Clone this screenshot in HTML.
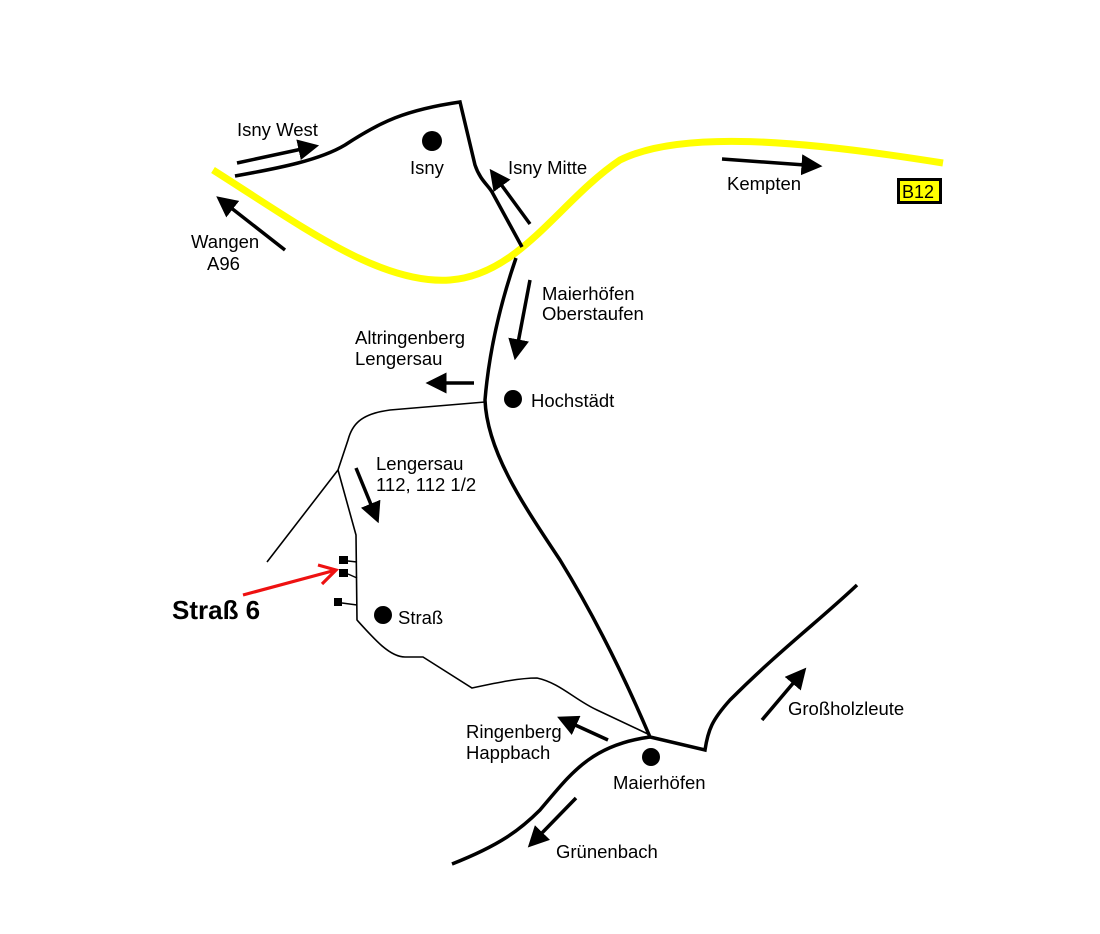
<!DOCTYPE html>
<html><head><meta charset="utf-8"><style>
html,body{margin:0;padding:0;background:#fff}
svg{display:block}
text{font-family:"Liberation Sans",Arial,sans-serif;font-size:18.5px;fill:#000}
</style></head><body>
<svg width="1100" height="934" viewBox="0 0 1100 934" xmlns="http://www.w3.org/2000/svg">
<defs>
<marker id="ah" markerWidth="6" markerHeight="6" refX="1" refY="3" orient="auto" markerUnits="strokeWidth">
<path d="M0,0 L6,3 L0,6 z" fill="#000"/>
</marker>
</defs>
<path d="M213,170 C300,225 380,285 450,280 C520,275 560,200 620,160 C680,130 800,140 943,163" fill="none" stroke="#ffff00" stroke-width="7"/>
<path d="M235,176 C280,168 320,160 345,145 C380,122 405,110 460,102 L475,165 C480,180 488,185 492,192 L522,247" fill="none" stroke="#000" stroke-width="3.5"/>
<path d="M516,258 C505,290 490,340 485,400 C487,450 520,500 560,560 C600,625 630,690 650,737 L705,750 C708,730 712,720 730,700 C780,650 820,620 857,585" fill="none" stroke="#000" stroke-width="3.5"/>
<path d="M452,864 C500,845 520,830 540,810 C570,775 590,745 650,737" fill="none" stroke="#000" stroke-width="3.5"/>
<path d="M485,402 L390,410 C360,414 352,425 348,440 L338,470 L267,562" fill="none" stroke="#000" stroke-width="1.6"/>
<path d="M338,470 L356,535 L357,620 C375,640 390,657 405,657 L423,657 L472,688 C500,682 520,678 537,678 C560,683 575,700 597,710 L650,735" fill="none" stroke="#000" stroke-width="1.6"/>
<g fill="#000">
<rect x="339" y="556" width="9" height="8"/>
<rect x="339" y="569" width="9" height="8"/>
<rect x="334" y="598" width="8" height="8"/>
</g>
<path d="M348,561 L357,562 M348,574 L357,578 M342,603 L357,605" stroke="#000" stroke-width="1.4" fill="none"/>
<path d="M243,595 L336,570 M318,565 L336,570 L322,584" stroke="#ee1111" stroke-width="3.2" fill="none"/>
<circle cx="432" cy="141" r="10"/>
<circle cx="513" cy="399" r="9"/>
<circle cx="383" cy="615" r="9"/>
<circle cx="651" cy="757" r="9"/>
<g stroke="#000" stroke-width="3.5" fill="none" marker-end="url(#ah)">
<line x1="237" y1="163" x2="302" y2="149"/>
<line x1="285" y1="250" x2="230" y2="207"/>
<line x1="530" y1="224" x2="500" y2="183"/>
<line x1="722" y1="159" x2="805" y2="165"/>
<line x1="530" y1="280" x2="518" y2="343"/>
<line x1="474" y1="383" x2="443" y2="383"/>
<line x1="356" y1="468" x2="372" y2="507"/>
<line x1="608" y1="740" x2="573" y2="724"/>
<line x1="576" y1="798" x2="540" y2="835"/>
<line x1="762" y1="720" x2="795" y2="681"/>
</g>
<rect x="897" y="178" width="45" height="26" fill="#000"/>
<rect x="900" y="181" width="39" height="20" fill="#ffff00"/>
<text x="902" y="198" style="font-size:18px">B12</text>
<text x="237" y="136">Isny West</text>
<text x="410" y="174">Isny</text>
<text x="508" y="174">Isny Mitte</text>
<text x="727" y="190">Kempten</text>
<text x="191" y="248">Wangen</text>
<text x="207" y="270">A96</text>
<text x="542" y="300">Maierhöfen</text>
<text x="542" y="320">Oberstaufen</text>
<text x="355" y="344">Altringenberg</text>
<text x="355" y="365">Lengersau</text>
<text x="531" y="407">Hochstädt</text>
<text x="376" y="470">Lengersau</text>
<text x="376" y="491">112, 112 1/2</text>
<text x="172" y="619" style="font-size:26px;font-weight:bold">Straß 6</text>
<text x="398" y="624">Straß</text>
<text x="788" y="715">Großholzleute</text>
<text x="466" y="738">Ringenberg</text>
<text x="466" y="759">Happbach</text>
<text x="613" y="789">Maierhöfen</text>
<text x="556" y="858">Grünenbach</text>
</svg>
</body></html>
